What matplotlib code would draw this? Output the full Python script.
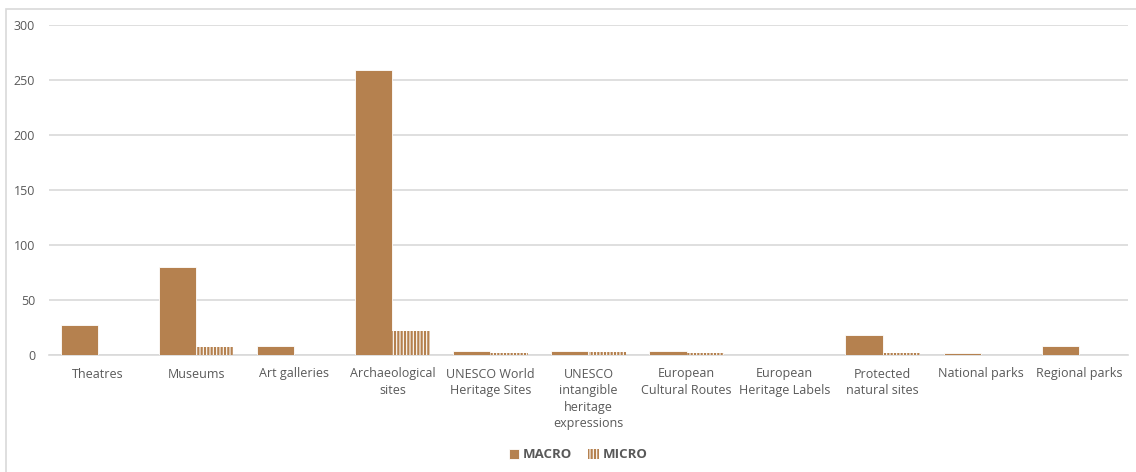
import matplotlib
matplotlib.use("Agg")
import matplotlib.pyplot as plt
import numpy as np
from matplotlib.patches import Rectangle

categories = ["Theatres", "Museums", "Art galleries", "Archaeological\nsites",
              "UNESCO World\nHeritage Sites", "UNESCO\nintangible\nheritage\nexpressions",
              "European\nCultural Routes", "European\nHeritage Labels",
              "Protected\nnatural sites", "National parks", "Regional parks"]
macro = [27, 80, 8, 259, 4, 4, 4, 0, 18, 2, 8]
micro = [0, 7, 0, 22, 2, 3, 2, 0, 2, 0, 0]
yticks = [0, 50, 100, 150, 200, 250, 300]

brown = "#B5814F"
textc = "#595959"
gridc = "#D9D9D9"

plt.rcParams['font.family'] = ['Open Sans', 'DejaVu Sans']
plt.rcParams['hatch.linewidth'] = 1.6

fig = plt.figure(figsize=(11.36, 4.72), dpi=100)
ax = fig.add_axes([49/1136, (472-355)/472, (1128-49)/1136, (355-25)/472])

x = np.arange(len(categories))
w = 0.38
ax.bar(x - w/2, macro, width=w, color=brown, edgecolor="white", linewidth=0.6, label="MACRO", zorder=3)
ax.bar(x + w/2, micro, width=w, facecolor="white", edgecolor=brown, hatch="|||||", linewidth=0,
       label="MICRO", zorder=3)

ax.set_xlim(-0.5, len(categories) - 0.5)
ax.set_ylim(0, 300)
ax.set_yticks(yticks)
ax.set_yticklabels([str(v) for v in yticks], color=textc, fontsize=9)
ax.set_xticks(x)
ax.set_xticklabels(categories, color=textc, fontsize=9, linespacing=1.35, va="top")
ax.tick_params(axis="both", length=0)
ax.tick_params(axis="x", pad=9)
ax.tick_params(axis="y", pad=10)
ax.grid(axis="y", color=gridc, linewidth=1.2, zorder=0)
for s in ["top", "right", "left"]:
    ax.spines[s].set_visible(False)
ax.spines["bottom"].set_color(gridc)
ax.spines["bottom"].set_linewidth(1.2)

leg = fig.legend(loc="center", bbox_to_anchor=(578/1136, 1 - 455/472), ncol=2, frameon=False,
                 fontsize=9.5, handlelength=0.8, handleheight=0.8, handletextpad=0.3,
                 columnspacing=1.2)
for t in leg.get_texts():
    t.set_color(textc)
    t.set_fontweight("bold")

fig.add_artist(Rectangle((5.5/1136, -0.01), 1.0, 1 - 8.5/472 + 0.01, transform=fig.transFigure,
                         fill=False, edgecolor="#D9D9D9", linewidth=1.2))

fig.savefig("out.png", dpi=100)
